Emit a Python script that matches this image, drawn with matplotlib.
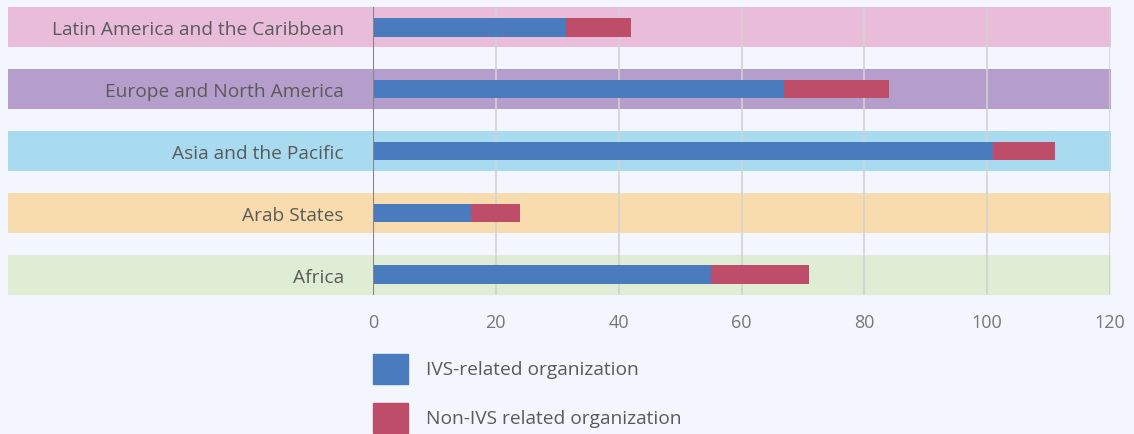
import matplotlib.pyplot as plt
from matplotlib.patches import Rectangle

# Data
regions = ["Africa", "Arab States", "Asia and the Pacific",
           "Europe and North America", "Latin America and the Caribbean"]
ivs_related = [55, 16, 101, 67, 31.5]
non_ivs = [16, 8, 10, 17, 10.5]
band_colors = ["#E0EDD5", "#F8DCAD", "#A8DAF0", "#B59ECB", "#E9BDDA"]
series_names = ["IVS-related organization", "Non-IVS related organization"]
series_colors = ["#4A7BBE", "#BE4D6A"]
xticks = [0, 20, 40, 60, 80, 100, 120]

bg = "#F3F6FE"
text_col = "#5A5A5A"

plt.rcParams["font.family"] = ["Open Sans", "DejaVu Sans"]

fig = plt.figure(figsize=(11.34, 4.35), dpi=100, facecolor=bg)
ax = fig.add_axes([373 / 1134, 1 - 296 / 435, 737 / 1134, 288 / 435])
ax.set_facecolor("none")

half = 0.323
ypos = list(range(len(regions)))
for y, c in zip(ypos, band_colors):
    ax.axhspan(y - half, y + half, xmin=-(373 - 8) / 737, xmax=1.0015,
               color=c, lw=0, clip_on=False, zorder=0)

for x in xticks[1:]:
    ax.axvline(x, color="#D2D2D2", lw=1.2, zorder=1)
ax.axvline(0, color="#858585", lw=1.5, zorder=3)

ax.barh(ypos, ivs_related, height=0.306, color=series_colors[0], zorder=2)
ax.barh(ypos, non_ivs, left=ivs_related, height=0.306,
        color=series_colors[1], zorder=2)

ax.set_xlim(0, 120)
ax.set_ylim(-half, len(regions) - 1 + half)
ax.set_xticks(xticks)
ax.set_yticks(ypos)
ax.set_yticklabels(regions, fontsize=13.8, color=text_col)
ax.tick_params(axis="y", length=0, pad=21)
ax.tick_params(axis="x", length=0, pad=13, labelsize=13, labelcolor="#777777")
for s in ax.spines.values():
    s.set_visible(False)

# Manual legend below the plot
W, H = 1134, 435
for i, (name, col) in enumerate(zip(series_names, series_colors)):
    top = 355 + i * 49
    fig.patches.append(Rectangle((373 / W, 1 - (top + 30) / H), 35 / W, 30 / H,
                                 transform=fig.transFigure, color=col))
    fig.text(426 / W, 1 - (top + 15) / H, name, fontsize=13.8, color=text_col,
             va="center", ha="left")

fig.savefig("out.png", dpi=100, facecolor=bg)
